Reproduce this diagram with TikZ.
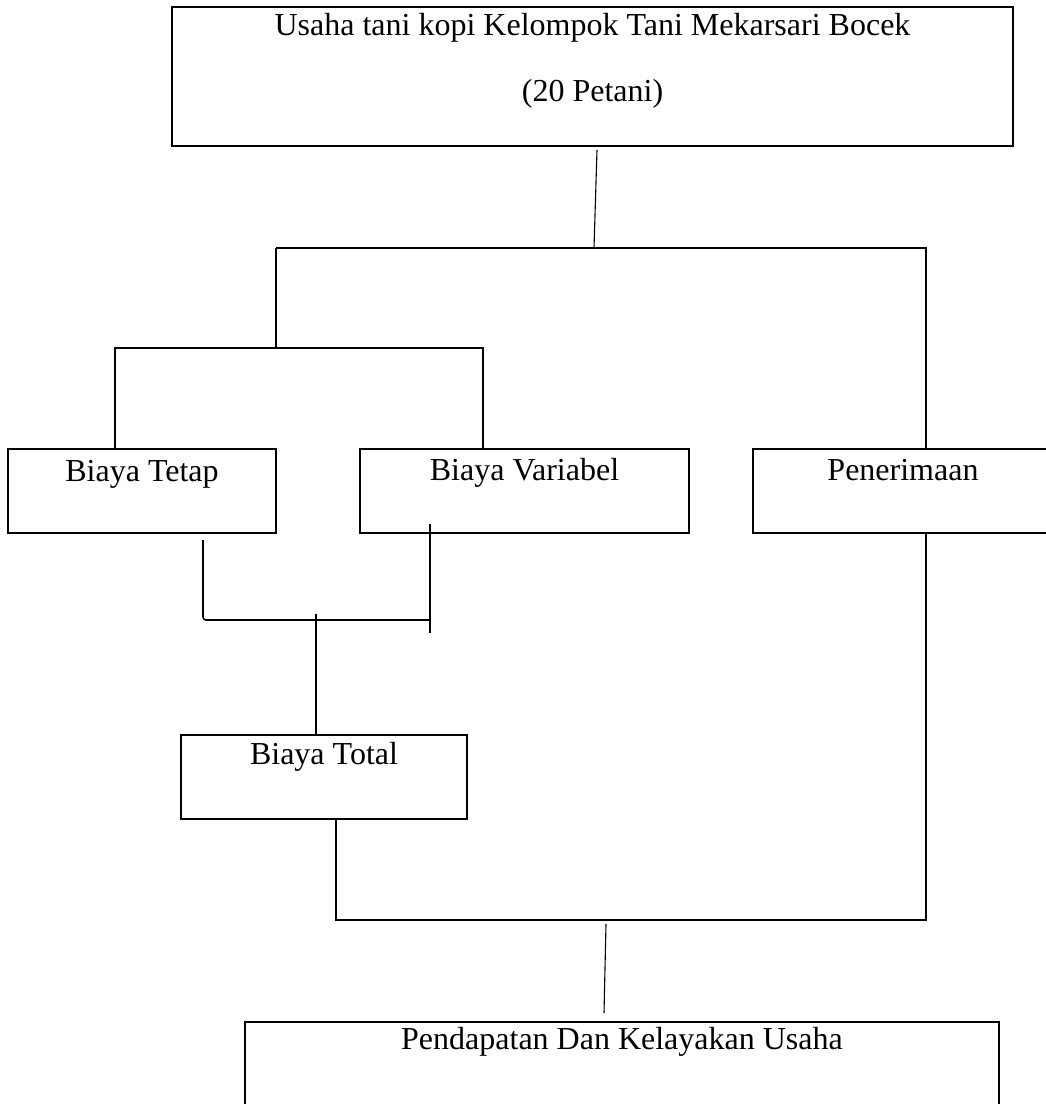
\documentclass[tikz,border=0pt]{standalone}
\usepackage{fontspec}
\setmainfont{Liberation Serif}
\begin{document}
\begin{tikzpicture}[x=1pt,y=-1pt,
  box/.style={draw, line width=2pt, inner sep=0pt, rectangle},
  txt/.style={anchor=base, inner sep=0pt, font=\fontsize{32}{38}\selectfont},
  conn/.style={line width=1.6pt},
  slim/.style={line width=1.1pt}]
\useasboundingbox (0,0) rectangle (1046,1104);
\clip (0,0) rectangle (1046,1104);
% boxes
\node[box, minimum width=841pt, minimum height=139pt,
  label={[txt, yshift=-29pt]north:Usaha tani kopi Kelompok Tani Mekarsari Bocek},
  label={[txt, yshift=-95pt]north:(20 Petani)}] (top) at (592.5,76.5) {};
\node[box, minimum width=268pt, minimum height=84pt,
  label={[txt, yshift=-33pt]north:Biaya Tetap}] (tet) at (142,491) {};
\node[box, minimum width=329pt, minimum height=84pt,
  label={[txt, yshift=-32pt]north:Biaya Variabel}] (var) at (524.5,491) {};
\node[box, minimum width=300pt, minimum height=84pt,
  label={[txt, yshift=-32pt]north:Penerimaan}] (pen) at (903,491) {};
\node[box, minimum width=286pt, minimum height=84pt,
  label={[txt, yshift=-30pt]north:Biaya Total}] (tot) at (324,777) {};
\node[box, minimum width=754pt, minimum height=108pt,
  label={[txt, yshift=-28pt]north:Pendapatan Dan Kelayakan Usaha}] (pdk) at (622,1076) {};
% coordinates
\coordinate (a1) at (597,150);
\coordinate (a2) at (594,248);
\coordinate (b) at (276,248);
\coordinate (pr) at (926,248);
\coordinate (bl) at (115,348);
\coordinate (br) at (483,348);
\coordinate (t1) at (203,540);
\coordinate (t2) at (430,620);
\coordinate (v1) at (430,524);
\coordinate (v2) at (430,633);
\coordinate (m1) at (316,614);
\coordinate (q) at (336,920);
\coordinate (qr) at (926,920);
\coordinate (d1) at (606,924);
\coordinate (d2) at (604,1013);
% connectors
\draw[slim] (a1) -- (a2);
\draw[conn] (b) -- (pr) -- (pr |- pen.north);
\draw[conn] (b) -- (b |- bl);
\draw[conn] (bl |- tet.north) -- (bl) -- (br) -- (br |- var.north);
\draw[conn, rounded corners=3pt] (t1) |- (t2);
\draw[conn] (v1) -- (v2);
\draw[conn] (m1) -- (m1 |- tot.north);
\draw[conn] (q |- tot.south) -- (q) -- (qr) -- (qr |- pen.south);
\draw[slim] (d1) -- (d2);
\end{tikzpicture}
\end{document}
